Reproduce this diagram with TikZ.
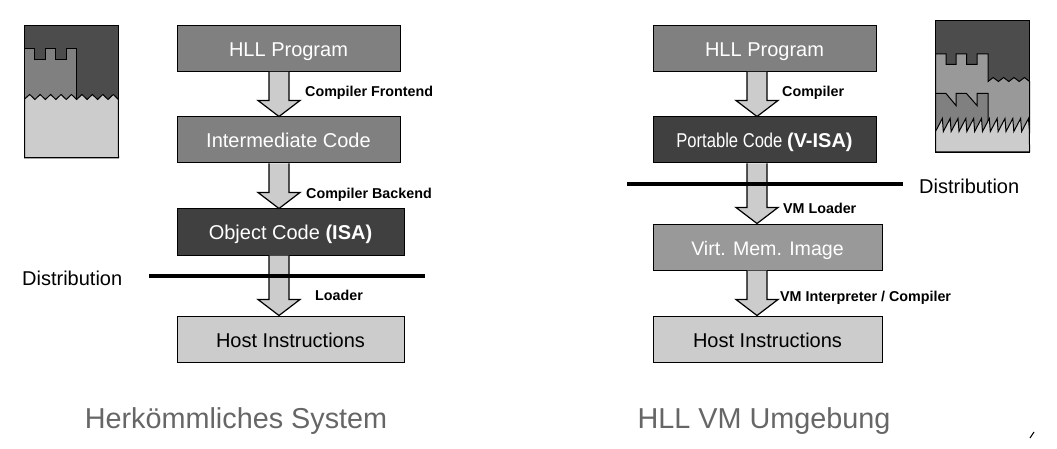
\documentclass[tikz,border=0pt]{standalone}
\usepackage{fontspec}
\setmainfont{Liberation Sans}
\newfontfamily\narrowfont[FakeStretch=0.83]{Liberation Sans}
\usetikzlibrary{calc}
\definecolor{darkbox}{gray}{0.25}
\definecolor{midbox}{gray}{0.5}
\definecolor{softbox}{gray}{0.6}
\definecolor{lightbox}{gray}{0.8}
\definecolor{wallgray}{gray}{0.3}
\definecolor{titlegray}{gray}{0.4}
% block arrow: from node, to node, column coordinate
\newcommand{\flowarrow}[3]{
   \coordinate (s) at (#1.south -| #3);
   \coordinate (t) at (#2.north -| #3);
   \draw[flowarrow] ($(s)+(-10,0)$) -- ($(t)+(-10,-16)$) -- ($(t)+(-21,-16)$) -- (t)
      -- ($(t)+(21,-16)$) -- ($(t)+(10,-16)$) -- ($(s)+(10,0)$);
}
\begin{document}
\begin{tikzpicture}[x=1pt,y=-1pt,
   box/.style={draw,line width=1pt,inner sep=0pt,minimum height=46pt,text height=19pt,text depth=3pt,font=\fontsize{20}{24}\selectfont},
   flowarrow/.style={draw,line width=1.2pt,fill=lightbox},
   steplabel/.style={inner sep=0pt,anchor=west,text height=12pt,text depth=1pt,font=\fontsize{14.3}{17}\selectfont\bfseries},
   distline/.style={line width=4pt},
   distlabel/.style={inner sep=0pt,anchor=west,font=\fontsize{20}{24}\selectfont},
   titlelabel/.style={inner sep=0pt,text=titlegray,text height=20pt,text depth=0pt,font=\fontsize{28.8}{34}\selectfont},
   outline/.style={draw,line width=1pt}]
   \useasboundingbox (0,0) rectangle (1057,449);
   \coordinate (colL) at (279,0);
   \coordinate (colR) at (757,0);
   % Left
   \node[box,fill=midbox,text=white,minimum width=223pt] (hllL) at (288.5,48.5) {HLL Program};
   \node[box,fill=midbox,text=white,minimum width=223pt] (interL) at (288.5,140) {Intermediate Code};
   \node[box,fill=darkbox,text=white,minimum width=227pt] (objL) at (290.5,232) {Object Code \textbf{(ISA)}};
   \node[box,fill=lightbox,minimum width=227pt] (hostL) at (290.5,339) {Host Instructions};
   \flowarrow{hllL}{interL}{colL}
   \flowarrow{interL}{objL}{colL}
   \flowarrow{objL}{hostL}{colL}
   \node[steplabel] (frontL) at (305,91) {Compiler Frontend};
   \node[steplabel] (backL) at (306,193) {Compiler Backend};
   \node[steplabel] (loadL) at (315,295) {Loader};
   \coordinate (distLa) at (149,276);
   \coordinate (distLb) at (425,276);
   \draw[distline] (distLa) -- (distLb);
   \node[distlabel] (distL) at (22,278) {Distribution};
   \node[titlelabel] (titleL) at (236,418) {Herkömmliches System};
   % Left castle
   \fill[wallgray] (24.5,25.5) rectangle (118.5,100);
   \draw[outline,fill=midbox] (24.5,48.5) -- (34.5,48.5) -- (34.5,60) -- (45.5,60) -- (45.5,48.5) -- (55.5,48.5)
      -- (55.5,60) -- (66.5,60) -- (66.5,48.5) -- (76.5,48.5) -- (76.5,100) -- (24.5,100);
   \draw[outline,fill=lightbox] (24.5,99)
      \foreach \i in {0,...,8} { -- ({24.5+\i*10.44+5.22},94.5) -- ({24.5+(\i+1)*10.44},99.5) }
      -- (118.5,158) -- (24.5,158) -- cycle;
   \draw[outline] (24.5,25.5) rectangle (118.5,158);
   % Right
   \node[box,fill=midbox,text=white,minimum width=223pt] (hllR) at (764.5,48.5) {HLL Program};
   \node[box,fill=darkbox,text=white,minimum width=223pt] (portR) at (764.5,140) {\narrowfont Portable Code \normalfont\textbf{(V-ISA)}};
   \node[box,fill=softbox,text=white,minimum width=229pt,font=\fontsize{19.6}{24}\selectfont] (virtR) at (767.5,247) {Virt. Mem. Image};
   \node[box,fill=lightbox,minimum width=229pt] (hostR) at (767.5,339) {Host Instructions};
   \flowarrow{hllR}{portR}{colR}
   \flowarrow{portR}{virtR}{colR}
   \flowarrow{virtR}{hostR}{colR}
   \node[steplabel] (compR) at (782,91) {Compiler};
   \node[steplabel] (loadR) at (783,208) {VM Loader};
   \node[steplabel] (interpR) at (780,296) {VM Interpreter / Compiler};
   \coordinate (distRa) at (627,184);
   \coordinate (distRb) at (903,184);
   \draw[distline] (distRa) -- (distRb);
   \node[distlabel] (distR) at (919,186) {Distribution};
   \node[titlelabel] (titleR) at (764,418) {HLL VM Umgebung};
   % Right castle
   \fill[wallgray] (935.5,20.5) rectangle (1029.5,90);
   \draw[outline,fill=softbox] (935.5,54) -- (946,54) -- (946,64.5) -- (956,64.5) -- (956,54) -- (966.5,54)
      -- (966.5,64.5) -- (977,64.5) -- (977,54) -- (988,54) -- (988,81.5)
      \foreach \i in {0,...,3} { -- ({988+\i*10.4+5.2},77.5) -- ({988+(\i+1)*10.4},81.5) }
      -- (1029.5,133) -- (935.5,133) -- cycle;
   \draw[outline,fill=midbox] (935.5,93.5) -- (946,93.5) -- (956,105.5) -- (956,93.5) -- (966.5,93.5)
      -- (977,105.5) -- (977,93.5) -- (988,93.5) -- (988,133) -- (935.5,133) -- cycle;
   \draw[outline,fill=lightbox] (935.5,131.5)
      \foreach \i in {0,...,11} { -- ({935.5+(\i+1)*7.83-1},118.5) -- ({935.5+(\i+1)*7.83},131.5) }
      -- (1029.5,152) -- (935.5,152) -- cycle;
   \draw[outline] (935.5,20.5) rectangle (1029.5,152.5);
   % Mark
   \draw[line width=1pt] (1030,438) -- (1034,432);
\end{tikzpicture}
\end{document}
